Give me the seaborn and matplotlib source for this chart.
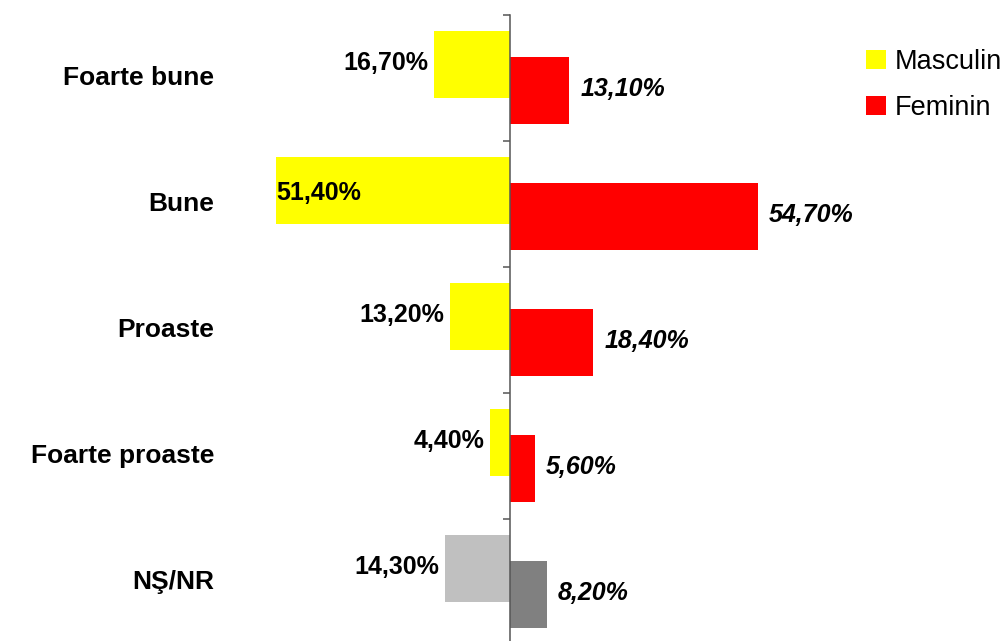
import matplotlib
matplotlib.use("Agg")
import matplotlib.pyplot as plt
from matplotlib.patches import Patch
from matplotlib.transforms import blended_transform_factory
import seaborn as sns
import pandas as pd
import numpy as np

# data
categories = ['Foarte bune', 'Bune', 'Proaste', 'Foarte proaste', 'NŞ/NR']
masculin = [16.7, 51.4, 13.2, 4.4, 14.3]
feminin = [13.1, 54.7, 18.4, 5.6, 8.2]
masc_colors = ['#FFFF00', '#FFFF00', '#FFFF00', '#FFFF00', '#C0C0C0']
fem_colors = ['#FF0000', '#FF0000', '#FF0000', '#FF0000', '#808080']
legend_labels = ['Masculin', 'Feminin']
legend_colors = ['#FFFF00', '#FF0000']

sns.set_style('white')
plt.rcParams['font.family'] = ['Liberation Sans', 'DejaVu Sans']
plt.rcParams['text.color'] = 'black'

pos = np.arange(len(categories))
df = pd.DataFrame({'cat': categories, 'pos': pos,
                   'masc': [-v for v in masculin], 'fem': feminin})

fig = plt.figure(figsize=(10.05, 6.41), dpi=100)
ax = fig.add_axes([0, -4 / 641, 1, 630 / 641])

sns.barplot(data=df.assign(p=df.pos - 0.105), x='masc', y='p', hue='cat',
            palette=dict(zip(categories, masc_colors)), orient='h', native_scale=True,
            dodge=False, width=0.53, errorbar=None, linewidth=0, saturation=1,
            legend=False, ax=ax)
sns.barplot(data=df.assign(p=df.pos + 0.1), x='fem', y='p', hue='cat',
            palette=dict(zip(categories, fem_colors)), orient='h', native_scale=True,
            dodge=False, width=0.53, errorbar=None, linewidth=0, saturation=1,
            legend=False, ax=ax)

ax.set_xlim(-112.2, 109.1)
ax.set_ylim(4.5, -0.5)

# center axis with boundary ticks
for s in ['top', 'right', 'bottom']:
    ax.spines[s].set_visible(False)
ax.spines['left'].set_position(('data', 0))
ax.spines['left'].set_color('#555555')
ax.spines['left'].set_linewidth(1.1)
ax.set_yticks(np.arange(-0.5, len(categories), 1))
ax.set_yticklabels([])
ax.tick_params(axis='y', direction='out', length=5, width=1.1, color='#555555', left=True)
ax.set_xticks([])
ax.set_xlabel('')
ax.set_ylabel('')

# category labels
tr = blended_transform_factory(ax.transAxes, ax.transData)
for i, c in enumerate(categories):
    ax.text(214 / 1005, i, c, transform=tr, ha='right', va='center',
            fontsize=19, fontweight='bold', color='black')

# value labels
for i in range(len(categories)):
    m = masculin[i]
    txt = f'{m:.2f}'.replace('.', ',') + '%'
    if m > 50:
        ax.annotate(txt, (-m, i - 0.09), xytext=(0, 0), textcoords='offset points',
                    ha='left', va='center', fontsize=18, fontweight='bold', color='black')
    else:
        ax.annotate(txt, (-m, i - 0.12), xytext=(-4, 0), textcoords='offset points',
                    ha='right', va='center', fontsize=18, fontweight='bold', color='black')
    f = feminin[i]
    txt = f'{f:.2f}'.replace('.', ',') + '%'
    ax.annotate(txt, (f, i + 0.09), xytext=(8, 0), textcoords='offset points',
                ha='left', va='center', fontsize=18, fontweight='bold', style='italic',
                color='black')

handles = [Patch(facecolor=c, edgecolor='none') for c in legend_colors]
fig.legend(handles, legend_labels, loc='upper left', bbox_to_anchor=(866 / 1005, 1 - 49 / 641),
           frameon=False, fontsize=19.5, handlelength=0.72, handleheight=0.72,
           handletextpad=0.33, labelspacing=0.73, borderpad=0, borderaxespad=0,
           labelcolor='black')

fig.savefig('out.png', dpi=100)
